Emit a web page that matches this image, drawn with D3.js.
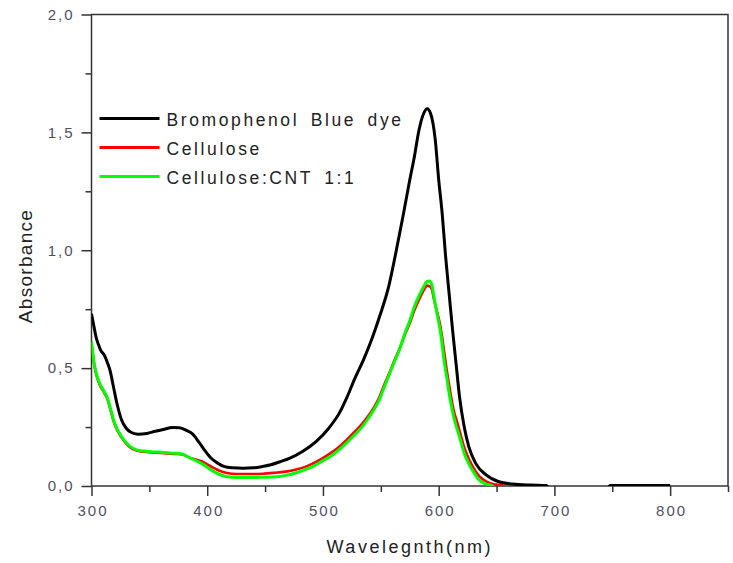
<!DOCTYPE html>
<html>
<head>
<meta charset="utf-8">
<script src="https://cdn.jsdelivr.net/npm/d3@7"></script>
<style>
  body { margin: 0; background: #fff; }
  text { font-family: "Liberation Sans", Arial, sans-serif; }
</style>
</head>
<body>
<div id="chart"></div>
<script>
// wavelength (nm) and absorbance
var dyeWl = [300, 302, 304, 306, 308, 311, 314, 316, 319, 322, 326, 330, 334, 340, 348, 355, 362, 370, 376, 382,
  387, 393, 398, 403, 409, 415, 422, 431, 440, 447, 455, 463, 471, 482, 494, 505, 514, 521, 527, 535,
  542, 549, 557, 563, 569, 575, 579, 583, 587, 590, 593, 597, 600, 603, 606, 609, 612, 615, 618, 622,
  626, 632, 641, 652, 664, 680, 693, 697, 745, 748, 800];
var dyeAbs = [0.73, 0.68, 0.63, 0.60, 0.575, 0.556, 0.52, 0.49, 0.42, 0.35, 0.28, 0.245, 0.228, 0.22, 0.223, 0.232, 0.24, 0.248, 0.247, 0.236,
  0.222, 0.185, 0.15, 0.12, 0.097, 0.082, 0.077, 0.075, 0.077, 0.082, 0.09, 0.103, 0.117, 0.145, 0.188, 0.245, 0.308, 0.379, 0.45, 0.535,
  0.62, 0.72, 0.85, 0.99, 1.14, 1.298, 1.397, 1.51, 1.58, 1.60, 1.58, 1.47, 1.30, 1.157, 0.973, 0.817, 0.662, 0.52, 0.379, 0.252,
  0.167, 0.096, 0.047, 0.018, 0.008, 0.004, 0.002, -0.02, -0.02, 0.002, 0.002];

var cellWl = [300, 302, 304, 307, 311, 314, 316, 320, 326, 332, 339, 345, 352, 360, 366, 372, 378, 386, 395, 405,
  410, 417, 425, 437, 448, 460, 468, 477, 484, 491, 498, 506, 513, 520, 527, 534, 541, 546, 549, 553,
  557, 562, 566, 571, 575, 579, 583, 587, 590, 592, 594, 596, 599, 601, 603, 605, 607, 609, 611, 613,
  616, 618, 622, 626, 628, 632, 635, 641, 646, 650, 655, 660, 670];
var celluloseAbs = [0.605, 0.525, 0.475, 0.43, 0.395, 0.365, 0.33, 0.262, 0.205, 0.17, 0.15, 0.145, 0.142, 0.14, 0.138, 0.136, 0.134, 0.118, 0.105, 0.078,
  0.066, 0.055, 0.051, 0.051, 0.052, 0.057, 0.061, 0.07, 0.08, 0.095, 0.113, 0.137, 0.162, 0.193, 0.228, 0.265, 0.31, 0.35, 0.38, 0.43,
  0.475, 0.535, 0.58, 0.645, 0.69, 0.745, 0.79, 0.83, 0.85, 0.848, 0.835, 0.79, 0.73, 0.69, 0.63, 0.56, 0.49, 0.43, 0.37, 0.32,
  0.27, 0.235, 0.165, 0.115, 0.095, 0.062, 0.042, 0.02, 0.01, 0.006, 0.003, -0.02, -0.02];
var cntAbs = [0.612, 0.53, 0.48, 0.436, 0.40, 0.37, 0.336, 0.266, 0.209, 0.174, 0.153, 0.148, 0.145, 0.143, 0.141, 0.139, 0.136, 0.117, 0.096, 0.063,
  0.05, 0.039, 0.036, 0.036, 0.037, 0.039, 0.045, 0.056, 0.068, 0.082, 0.102, 0.124, 0.15, 0.181, 0.215, 0.252, 0.30, 0.34, 0.37, 0.42,
  0.47, 0.53, 0.577, 0.65, 0.70, 0.76, 0.806, 0.845, 0.868, 0.87, 0.855, 0.80, 0.72, 0.67, 0.60, 0.52, 0.46, 0.394, 0.34, 0.293,
  0.24, 0.208, 0.14, 0.095, 0.076, 0.045, 0.025, 0.008, 0.002, -0.02, -0.02, -0.02, -0.02];

var seriesNames = ["Bromophenol Blue dye", "Cellulose", "Cellulose:CNT 1:1"];
var seriesColors = ["#000000", "#ff0000", "#00ff00"];
var xTicks = [300, 400, 500, 600, 700, 800];
var yTicks = [0, 0.5, 1.0, 1.5, 2.0];

var margin = {top: 14.5, right: 5, bottom: 77, left: 91.5},
  width = 733 - margin.left - margin.right,
  height = 563 - margin.top - margin.bottom;

var svg = d3.select("#chart")
  .append("svg")
    .attr("width", 733)
    .attr("height", 563)
  .append("g")
    .attr("transform", "translate(" + margin.left + "," + margin.top + ")");

var x = d3.scaleLinear().domain([300, 850]).range([0, width]);
var y = d3.scaleLinear().domain([0, 2]).range([height, 0]);

var comma = function(d) { return d3.format(".1f")(d).replace(".", ","); };

// minor ticks first, then major ones with labels
svg.append("g")
  .attr("transform", "translate(0," + height + ")")
  .call(d3.axisBottom(x).tickValues(d3.range(350, 851, 100)).tickSize(6).tickFormat(""))
  .call(function(g) { g.select(".domain").remove(); });
svg.append("g")
  .call(d3.axisLeft(y).tickValues(d3.range(0.25, 2, 0.5)).tickSize(6).tickFormat(""))
  .call(function(g) { g.select(".domain").remove(); });

var xAxis = svg.append("g")
  .attr("transform", "translate(0," + height + ")")
  .call(d3.axisBottom(x).tickValues(xTicks).tickSize(10).tickPadding(9).tickFormat(d3.format("d")));
var yAxis = svg.append("g")
  .call(d3.axisLeft(y).tickValues(yTicks).tickSize(10).tickPadding(7).tickFormat(comma));

svg.selectAll(".tick line").attr("stroke", "#333").attr("stroke-width", 1.5);
svg.selectAll(".domain").remove();
svg.selectAll(".tick text")
  .style("font-size", "15px")
  .style("letter-spacing", "2px")
  .attr("fill", "#4f4f66");
xAxis.selectAll(".tick text").attr("dx", "1px");

// frame
svg.append("rect")
  .attr("width", width)
  .attr("height", height)
  .attr("fill", "none")
  .attr("stroke", "#333")
  .attr("stroke-width", 1.5);

svg.append("clipPath").attr("id", "plot")
  .append("rect").attr("width", width).attr("height", height);

var line = d3.line()
  .x(function(d) { return x(d[0]); })
  .y(function(d) { return y(d[1]); })
  .curve(d3.curveMonotoneX);

var curves = [
  d3.zip(dyeWl, dyeAbs),
  d3.zip(cellWl, celluloseAbs),
  d3.zip(cellWl, cntAbs)
];

svg.append("g")
  .attr("clip-path", "url(#plot)")
  .selectAll("path")
  .data(curves)
  .enter().append("path")
    .attr("d", line)
    .attr("fill", "none")
    .attr("stroke", function(d, i) { return seriesColors[i]; })
    .attr("stroke-width", function(d, i) { return i == 1 ? 2.6 : 3; })
    .attr("stroke-linejoin", "round");

// legend
var legend = svg.append("g")
  .selectAll("g")
  .data(seriesNames)
  .enter().append("g")
    .attr("transform", function(d, i) { return "translate(8," + (104 + i * 29) + ")"; });

legend.append("line")
  .attr("x1", 0).attr("x2", 60)
  .attr("stroke", function(d, i) { return seriesColors[i]; })
  .attr("stroke-width", 3);

legend.append("text")
  .attr("x", 67)
  .attr("y", 7)
  .text(function(d) { return d; })
  .style("font-size", "17.5px")
  .style("letter-spacing", "2.6px")
  .style("word-spacing", "4px")
  .attr("fill", "#222");

// axis titles
svg.append("text")
  .attr("x", width / 2)
  .attr("y", height + 67)
  .style("text-anchor", "middle")
  .style("font-size", "18px")
  .style("letter-spacing", "2.5px")
  .attr("fill", "#222")
  .text("Wavelegnth(nm)");

svg.append("text")
  .attr("transform", "rotate(-90)")
  .attr("x", -(266 - margin.top))
  .attr("y", -60)
  .style("text-anchor", "middle")
  .style("font-size", "19px")
  .style("letter-spacing", "1.3px")
  .attr("fill", "#222")
  .text("Absorbance");
</script>
</body>
</html>
